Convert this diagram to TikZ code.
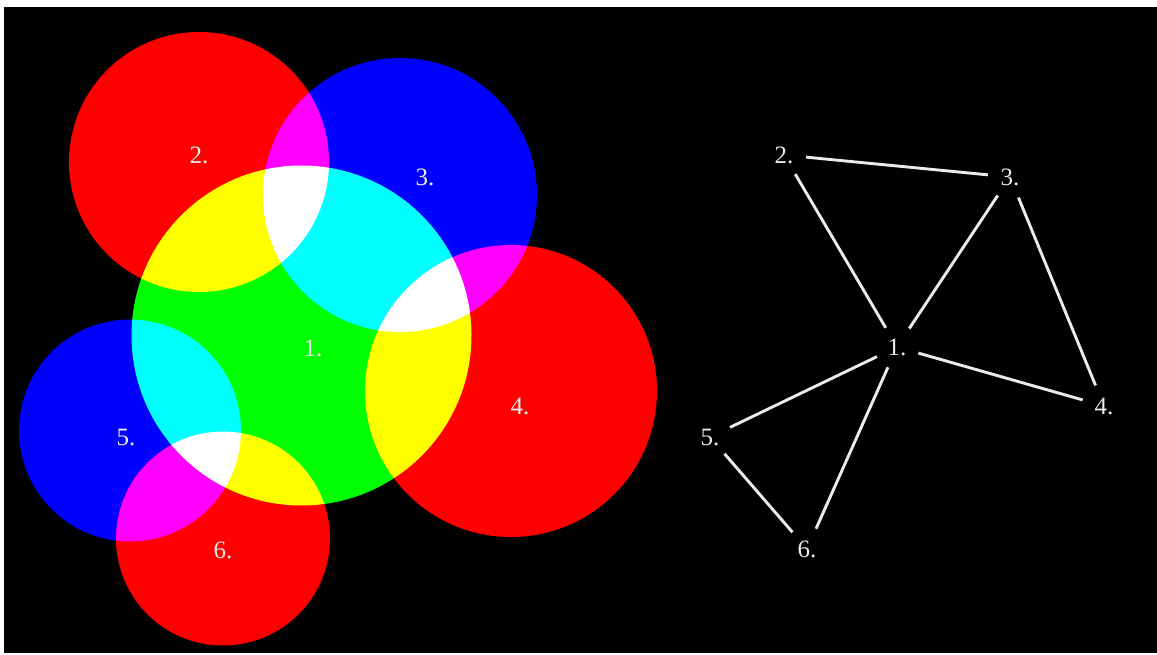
\documentclass[tikz,border=0pt]{standalone}
\usepackage{fontspec}
\setmainfont{Liberation Serif}
\begin{document}
\begin{tikzpicture}[x=1pt,y=-1pt,
  lbl/.style={text=white!92!black,font=\fontsize{25}{29}\selectfont},
  gnode/.style={circle,minimum size=44pt,inner sep=0pt,text=white!92!black,font=\fontsize{25}{29}\selectfont},
  edge/.style={draw=white!92!black,line width=2.9pt}]
\useasboundingbox (0,0) rectangle (1157,655);
\fill[white] (0,0) rectangle (1157,655);
\fill[black] (4,7) rectangle (1157,653);
% additive circles
\begin{scope}[blend group=screen]
\fill[green] (301.5,335.5) circle[radius=170pt];
\fill[red] (199,162) circle[radius=130pt];
\fill[blue] (400,195) circle[radius=137pt];
\fill[red] (511,391) circle[radius=146pt];
\fill[blue] (130,430.5) circle[radius=111pt];
\fill[red] (223,538.5) circle[radius=107pt];
\end{scope}
\node[lbl] (c1) at (313,348) {1.};
\node[lbl] (c2) at (199,155) {2.};
\node[lbl] (c3) at (425,177) {3.};
\node[lbl] (c4) at (520,406) {4.};
\node[lbl] (c5) at (126,437) {5.};
\node[lbl] (c6) at (223,550) {6.};
% graph
\node[gnode] (g1) at (897,347) {1.};
\node[gnode] (g2) at (784,155) {2.};
\node[gnode] (g3) at (1010,177) {3.};
\node[gnode] (g4) at (1104,406) {4.};
\node[gnode] (g5) at (710,437) {5.};
\node[gnode] (g6) at (807,549) {6.};
\draw[edge] (g2) -- (g3);
\draw[edge] (g2) -- (g1);
\draw[edge] (g3) -- (g1);
\draw[edge] (g3) -- (g4);
\draw[edge] (g1) -- (g4);
\draw[edge] (g1) -- (g5);
\draw[edge] (g1) -- (g6);
\draw[edge] (g5) -- (g6);
\end{tikzpicture}
\end{document}
